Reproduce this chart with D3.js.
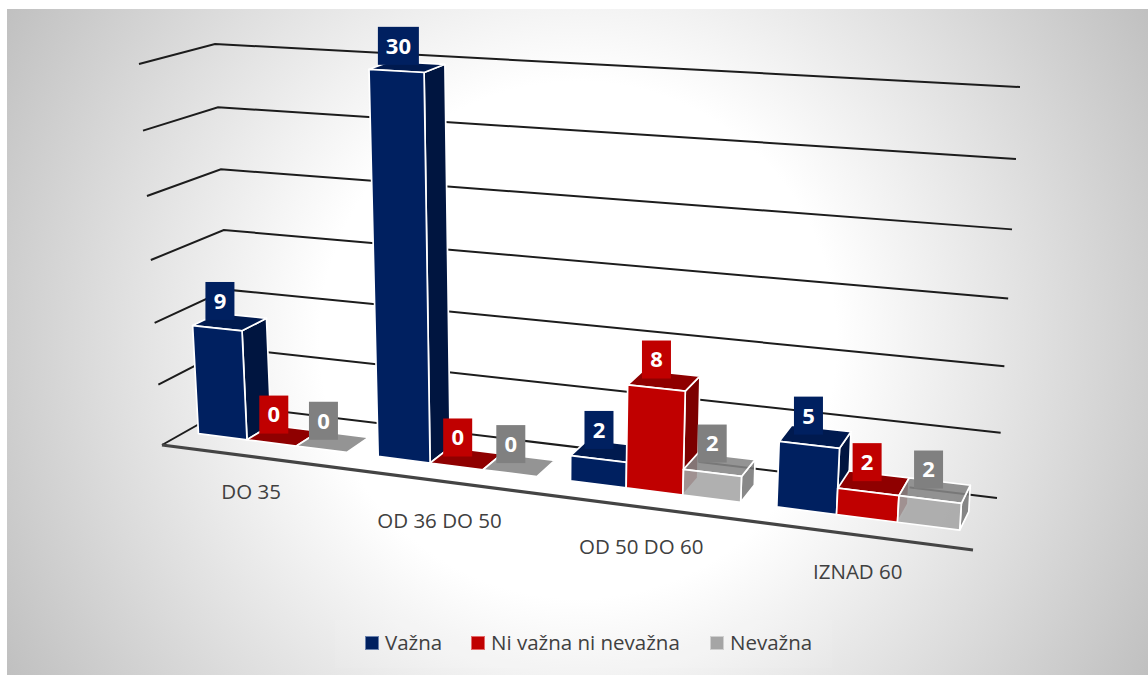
<!DOCTYPE html>
<html>
<head>
<meta charset="utf-8">
<script src="https://cdn.jsdelivr.net/npm/d3@7"></script>
<style>
  html, body { margin: 0; padding: 0; background: #fff; }
  svg { display: block; }
  text { font-family: "Open Sans", sans-serif; }
</style>
</head>
<body>
<div id="chart"></div>
<script>
const categories = ["DO 35", "OD 36 DO 50", "OD 50 DO 60", "IZNAD 60"];
const seriesNames = ["Važna", "Ni važna ni nevažna", "Nevažna"];
const vazna = [9, 30, 2, 5];
const niVazna = [0, 0, 8, 2];
const nevazna = [0, 0, 2, 2];
const gridTicks = [0, 5, 10, 15, 20, 25, 30];

const seriesValues = [vazna, niVazna, nevazna];
const palette = [
    { front: "#002060", side: "#001540", top: "#001a4f", label: "#002060", key: "#6b82ad", opacity: 1 },
    { front: "#C00000", side: "#7c0000", top: "#8f0000", label: "#C00000", key: "#e36a6a", opacity: 1 },
    { front: "#A5A5A5", side: "#777777", top: "#858585", label: "#808080", key: "#cfcfcf", opacity: 0.88 }
];

const W = 1148, H = 675;

const svg = d3.select("#chart").append("svg")
    .attr("width", W)
    .attr("height", H);

// Background
const grad = svg.append("defs").append("radialGradient")
    .attr("id", "bg")
    .attr("gradientUnits", "userSpaceOnUse")
    .attr("cx", 578).attr("cy", 340).attr("r", 680);
grad.append("stop").attr("offset", "0.38").attr("stop-color", "#ffffff");
grad.append("stop").attr("offset", "1").attr("stop-color", "#bdbdbd");

svg.append("rect")
    .attr("x", 7).attr("y", 9)
    .attr("width", W - 7).attr("height", H - 9)
    .attr("fill", "url(#bg)");

// The chart's box as seen on the page
const c = {
    back: { floor: [[232, 405.5], [997, 498]], roof: [[215, 44], [1020, 87]] },
    front: { floor: [[162, 445], [973, 550]], roof: [[139, 64], [1003, 116]] }
};

// Scales: band position along the floor and value up the wall
const x0 = d3.scaleBand().domain(categories).range([-0.002, 0.998]).paddingInner(0.17).paddingOuter(0.085);
const x1 = d3.scaleBand().domain(seriesNames).range([0, x0.bandwidth()]);
const y = d3.scaleLinear().domain([0, 30]).range([0, 1]);

// Foreshortening along both axes
const warp = k => t => t / (1 + k - k * t);
const warpX = warp(0.15);
const warpY = warp(0.06);

function lerp(a, b, t) {
    return [a[0] + (b[0] - a[0]) * t, a[1] + (b[1] - a[1]) * t];
}

// u 0..1 left to right, d 0 back .. 1 front, v data value
function project(u, d, v) {
    const fu = warpX(u), fv = warpY(y(v));
    const backPt = lerp(lerp(c.back.floor[0], c.back.floor[1], fu), lerp(c.back.roof[0], c.back.roof[1], fu), fv);
    const frontPt = lerp(lerp(c.front.floor[0], c.front.floor[1], fu), lerp(c.front.roof[0], c.front.roof[1], fu), fv);
    return lerp(backPt, frontPt, d);
}

const poly = d3.line();

// Grid lines on the left and back walls
const grid = svg.append("g");
gridTicks.forEach(t => {
    grid.append("path")
        .attr("d", poly([project(0, 1, t), project(0, 0, t), project(1, 0, t)]))
        .attr("fill", "none")
        .attr("stroke", "#1c1c1c")
        .attr("stroke-width", 2);
});

// Front edge of the floor
svg.append("path")
    .attr("d", poly([project(0, 1, 0), project(1, 1, 0)]))
    .attr("stroke", "#444")
    .attr("stroke-width", 3.2)
    .attr("fill", "none");

// Bars
const d0 = 0.31, d1 = 0.67;
const bars = svg.append("g");
categories.forEach((cat, i) => {
    seriesNames.forEach((name, j) => {
        const v = seriesValues[j][i];
        const u0 = x0(cat) + x1(name);
        const u1 = u0 + x1.bandwidth();
        const col = palette[j];
        const g = bars.append("g").attr("stroke", "#fff").attr("stroke-width", 1.7).attr("stroke-linejoin", "round");
        if (v > 0) {
            g.append("path")
                .attr("d", poly([project(u1, d1, 0), project(u1, d0, 0), project(u1, d0, v), project(u1, d1, v)]) + "Z")
                .attr("fill", col.side).attr("fill-opacity", col.opacity);
        }
        g.append("path")
            .attr("d", poly([project(u0, d1, v), project(u1, d1, v), project(u1, d0, v), project(u0, d0, v)]) + "Z")
            .attr("fill", col.top).attr("fill-opacity", col.opacity);
        if (v > 0) {
            g.append("path")
                .attr("d", poly([project(u0, d1, 0), project(u1, d1, 0), project(u1, d1, v), project(u0, d1, v)]) + "Z")
                .attr("fill", col.front).attr("fill-opacity", col.opacity);
        }
    });
});

// Data labels
const labels = svg.append("g");
categories.forEach((cat, i) => {
    seriesNames.forEach((name, j) => {
        const v = seriesValues[j][i];
        const u = x0(cat) + x1(name) + x1.bandwidth() / 2;
        const p = project(u, (d0 + d1) / 2, v);
        const bw = String(v).length > 1 ? 41 : 29;
        const cx = p[0] - 10 + 4 * u, cy = p[1] - 21;
        labels.append("rect")
            .attr("x", cx - bw / 2).attr("y", cy - 19)
            .attr("width", bw).attr("height", 38)
            .attr("fill", palette[j].label);
        labels.append("text")
            .attr("x", cx).attr("y", cy)
            .attr("dy", "0.36em")
            .attr("text-anchor", "middle")
            .attr("fill", "#fff")
            .attr("font-size", 22)
            .attr("font-weight", 700)
            .text(v);
    });
});

// Category labels
const catNudge = [-3, 2, 2, -1];
svg.append("g").selectAll("text")
    .data(categories)
    .enter()
    .append("text")
    .attr("x", d => project(x0(d) + x0.bandwidth() / 2, 1, 0)[0] + 1)
    .attr("y", (d, i) => project(x0(d) + x0.bandwidth() / 2, 1, 0)[1] + 38 + catNudge[i])
    .attr("dy", "0.36em")
    .attr("text-anchor", "middle")
    .attr("fill", "#404040")
    .attr("font-size", 20.5)
    .text(d => d);

// Legend
svg.append("rect")
    .attr("x", 335).attr("y", 620)
    .attr("width", 497).attr("height", 48)
    .attr("fill", "#fff")
    .attr("fill-opacity", 0.08);

const legendX = [365, 471, 710];
const legend = svg.append("g");
seriesNames.forEach((name, j) => {
    legend.append("rect")
        .attr("x", legendX[j] + 0.5).attr("y", 636.5)
        .attr("width", 13).attr("height", 13)
        .attr("fill", palette[j].front)
        .attr("stroke", palette[j].key);
    legend.append("text")
        .attr("x", legendX[j] + 20).attr("y", 643)
        .attr("dy", "0.36em")
        .attr("fill", "#404040")
        .attr("font-size", 20.5)
        .text(name);
});
</script>
</body>
</html>
